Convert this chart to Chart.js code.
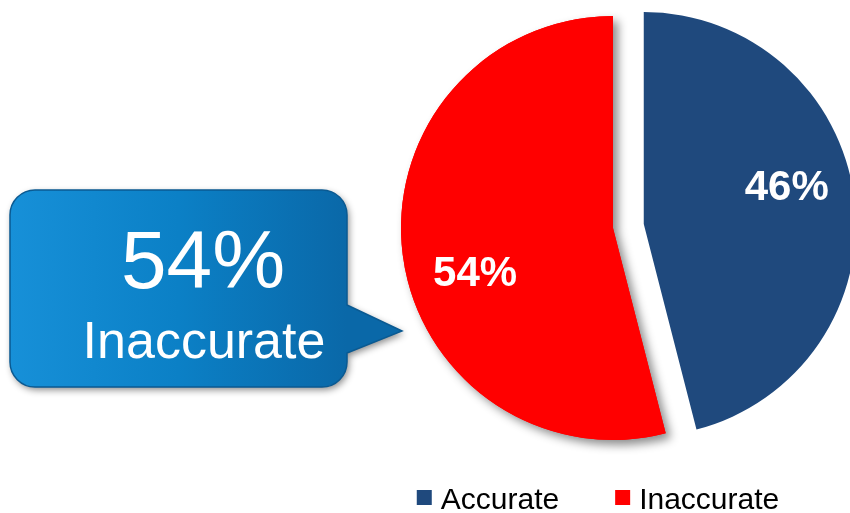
<!DOCTYPE html>
<html>
<head>
<meta charset="utf-8">
<title>Accuracy</title>
<script src="https://cdn.jsdelivr.net/npm/chart.js@4/dist/chart.umd.min.js"></script>
<style>
  html, body { margin: 0; padding: 0; background: #fff; }
  #wrap { width: 850px; height: 513px; }
</style>
</head>
<body>
<div id="wrap"><canvas id="myChart" width="850" height="513"></canvas></div>
<script>
var labels = ['Accurate', 'Inaccurate'];
var values = [46, 54];
var colors = ['#1F497D', '#FF0000'];
var explode = [31, 0];      // px each slice is pulled out of the pie
var calloutIndex = 1;       // slice described by the speech bubble

var FONT = '"Liberation Sans", Arial, Helvetica, sans-serif';

// pull exploded slices out along their middle angle
var explodePlugin = {
    id: 'explode',
    afterUpdate: function (chart) {
        var meta = chart.getDatasetMeta(0);
        meta.data.forEach(function (arc, i) {
            var d = explode[i] || 0;
            if (!d) return;
            var mid = (arc.startAngle + arc.endAngle) / 2;
            arc.x += Math.cos(mid) * d;
            arc.y += Math.sin(mid) * d;
        });
    }
};

// soft drop shadow under the red slice
var shadowPlugin = {
    id: 'sliceShadow',
    beforeDatasetsDraw: function (chart) {
        var arc = chart.getDatasetMeta(0).data[1];
        var ctx = chart.ctx;
        ctx.save();
        ctx.shadowColor = 'rgba(0,0,0,0.45)';
        ctx.shadowBlur = 10;
        ctx.shadowOffsetX = 5;
        ctx.shadowOffsetY = 5;
        arc.draw(ctx);
        ctx.restore();
    }
};

// white percentage labels inside the slices
var labelPlugin = {
    id: 'sliceLabels',
    afterDatasetsDraw: function (chart) {
        var ctx = chart.ctx;
        var meta = chart.getDatasetMeta(0);
        var size = 42;
        ctx.save();
        ctx.fillStyle = '#fff';
        ctx.font = 'bold ' + size + 'px ' + FONT;
        ctx.textAlign = 'center';
        ctx.textBaseline = 'alphabetic';
        meta.data.forEach(function (arc, i) {
            var a = arc.startAngle + 0.45 * (arc.endAngle - arc.startAngle);
            var r = arc.outerRadius * 0.69;
            var px = arc.x + Math.cos(a) * r;
            var py = arc.y + Math.sin(a) * r;
            ctx.fillText(values[i] + '%', px + 2, py + size * 0.36);
        });
        ctx.restore();
    }
};

function bubblePath(ctx, x, y, w, h, r, t1, tx, ty, t2) {
    ctx.beginPath();
    ctx.moveTo(x + r, y);
    ctx.lineTo(x + w - r, y);
    ctx.arcTo(x + w, y, x + w, y + r, r);
    ctx.lineTo(x + w, t1);
    ctx.lineTo(tx, ty);
    ctx.lineTo(x + w, t2);
    ctx.lineTo(x + w, y + h - r);
    ctx.arcTo(x + w, y + h, x + w - r, y + h, r);
    ctx.lineTo(x + r, y + h);
    ctx.arcTo(x, y + h, x, y + h - r, r);
    ctx.lineTo(x, y + r);
    ctx.arcTo(x, y, x + r, y, r);
    ctx.closePath();
}

// speech bubble pointing at the callout slice
var calloutPlugin = {
    id: 'callout',
    afterDraw: function (chart) {
        var ctx = chart.ctx;
        var x = 10, y = 190, w = 337, h = 197;
        ctx.save();
        bubblePath(ctx, x, y, w, h, 25, 305, 402, 331, 353);
        ctx.shadowColor = 'rgba(0,0,0,0.45)';
        ctx.shadowBlur = 7;
        ctx.shadowOffsetX = 2;
        ctx.shadowOffsetY = 3;
        var g = ctx.createLinearGradient(x, 0, x + w, 0);
        g.addColorStop(0, '#1790d8');
        g.addColorStop(0.5, '#0b80c6');
        g.addColorStop(1, '#0a68a8');
        ctx.fillStyle = g;
        ctx.fill();
        ctx.shadowColor = 'transparent';
        ctx.lineWidth = 1.5;
        ctx.strokeStyle = '#0a5a92';
        ctx.stroke();

        ctx.fillStyle = '#fff';
        ctx.textAlign = 'center';
        ctx.textBaseline = 'alphabetic';
        ctx.font = '82px ' + FONT;
        ctx.fillText(values[calloutIndex] + '%', 203, 288);
        ctx.font = '52px ' + FONT;
        ctx.fillText(labels[calloutIndex], 204, 358);
        ctx.restore();
    }
};

// legend row under the pie
var legendPlugin = {
    id: 'bottomLegend',
    afterDraw: function (chart) {
        var ctx = chart.ctx;
        var box = 15, gap = 9, spacing = 56, cx = 598, baseY = 509;
        ctx.save();
        ctx.font = '30px ' + FONT;
        ctx.textBaseline = 'alphabetic';
        ctx.textAlign = 'left';
        var total = 0;
        labels.forEach(function (l, i) {
            total += box + gap + ctx.measureText(l).width + (i ? spacing : 0);
        });
        var xPos = cx - total / 2;
        labels.forEach(function (l, i) {
            ctx.fillStyle = colors[i];
            ctx.fillRect(xPos, 490, box, box);
            ctx.fillStyle = '#000';
            ctx.fillText(l, xPos + box + gap, baseY);
            xPos += box + gap + ctx.measureText(l).width + spacing;
        });
        ctx.restore();
    }
};

var ctx = document.getElementById('myChart').getContext('2d');
var myPieChart = new Chart(ctx, {
    type: 'pie',
    data: {
        labels: labels,
        datasets: [{
            data: values,
            backgroundColor: colors,
            borderWidth: 0,
            clip: false
        }]
    },
    options: {
        responsive: false,
        devicePixelRatio: 1,
        animation: false,
        layout: {
            padding: { left: 393, right: 17, top: 16, bottom: 73 }
        },
        plugins: {
            legend: { display: false },
            tooltip: { enabled: false }
        }
    },
    plugins: [explodePlugin, shadowPlugin, labelPlugin, calloutPlugin, legendPlugin]
});
</script>
</body>
</html>
